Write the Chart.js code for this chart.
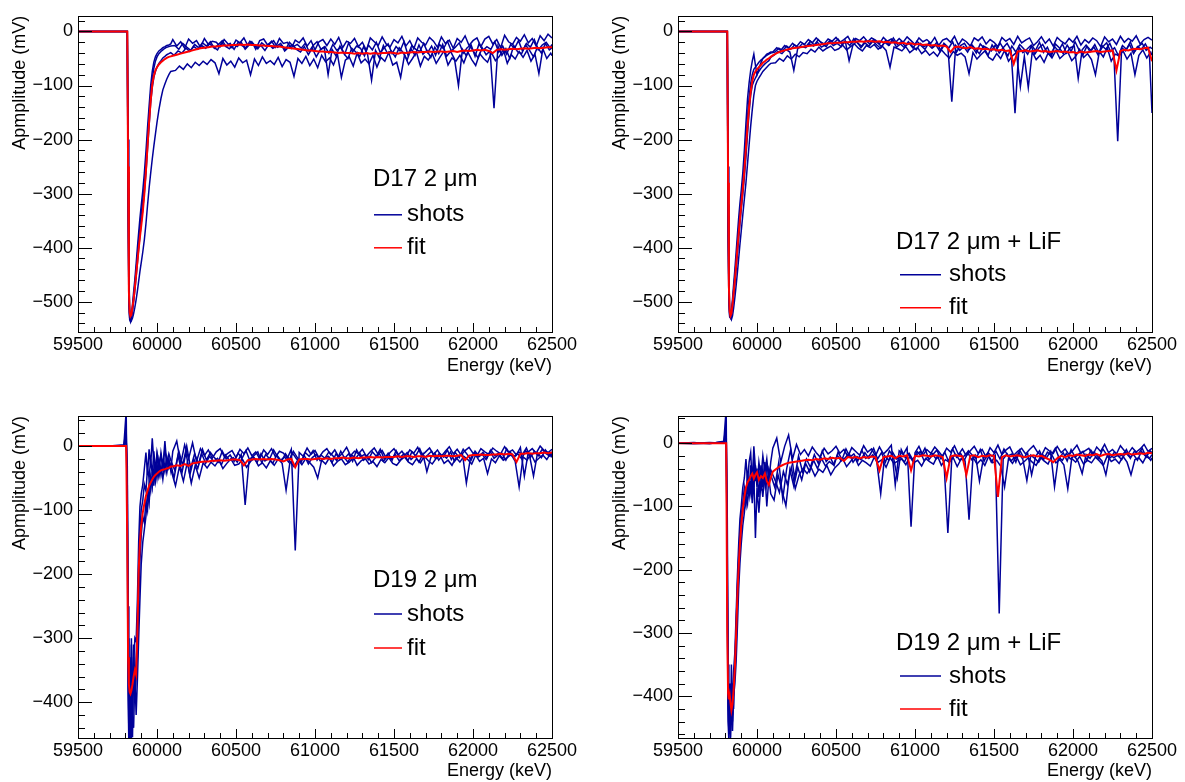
<!DOCTYPE html>
<html>
<head>
<meta charset="utf-8">
<script src="https://cdn.jsdelivr.net/npm/chart.js@4.4.1/dist/chart.umd.min.js"></script>
<style>
  body { margin: 0; background: #fff; overflow: hidden; }
  #page { position: relative; width: 1185px; height: 782px; background: #fff; overflow: hidden; }
  canvas { position: absolute; }
</style>
</head>
<body>
<div id="page">
  <canvas id="c1" width="592" height="391" style="left:0;top:0;width:592px;height:391px"></canvas>
  <canvas id="c2" width="592" height="391" style="left:600px;top:0;width:592px;height:391px"></canvas>
  <canvas id="c3" width="592" height="391" style="left:0;top:391px;width:592px;height:391px"></canvas>
  <canvas id="c4" width="592" height="391" style="left:600px;top:391px;width:592px;height:391px"></canvas>
</div>
<script>
// energy grid (keV): fine steps around the pulse, 25 keV steps in the tail.
// each shot was read on its own tail sampling (A, B, C, D)
const energyPulse = [
  59500, 59600, 59700, 59790, 59805, 59812,
  59817, 59822, 59827, 59832, 59838, 59845,
  59852, 59860, 59868, 59876, 59884, 59892,
  59900, 59910, 59920, 59930, 59940, 59950,
  59960, 59970, 59980, 59990, 60000, 60012,
  60025, 60037, 60050, 60062, 60075, 60087
];
const energyTailA = [
  60100, 60125, 60150, 60175, 60200, 60225, 60250, 60275,
  60300, 60325, 60350, 60375, 60400, 60425, 60450, 60475,
  60500, 60525, 60550, 60575, 60600, 60625, 60650, 60675,
  60700, 60725, 60750, 60775, 60800, 60825, 60850, 60875,
  60900, 60925, 60950, 60975, 61000, 61025, 61050, 61075,
  61100, 61125, 61150, 61175, 61200, 61225, 61250, 61275,
  61300, 61325, 61350, 61375, 61400, 61425, 61450, 61475,
  61500, 61525, 61550, 61575, 61600, 61625, 61650, 61675,
  61700, 61725, 61750, 61775, 61800, 61825, 61850, 61875,
  61900, 61925, 61950, 61975, 62000, 62025, 62050, 62075,
  62100, 62125, 62150, 62175, 62200, 62225, 62250, 62275,
  62300, 62325, 62350, 62375, 62400, 62425, 62450, 62475,
  62500
];
const energyTailB = [
  60108, 60133, 60158, 60183, 60208, 60233, 60258, 60283,
  60308, 60333, 60358, 60383, 60408, 60433, 60458, 60483,
  60508, 60533, 60558, 60583, 60608, 60633, 60658, 60683,
  60708, 60733, 60758, 60783, 60808, 60833, 60858, 60883,
  60908, 60933, 60958, 60983, 61008, 61033, 61058, 61083,
  61108, 61133, 61158, 61183, 61208, 61233, 61258, 61283,
  61308, 61333, 61358, 61383, 61408, 61433, 61458, 61483,
  61508, 61533, 61558, 61583, 61608, 61633, 61658, 61683,
  61708, 61733, 61758, 61783, 61808, 61833, 61858, 61883,
  61908, 61933, 61958, 61983, 62008, 62033, 62058, 62083,
  62108, 62133, 62158, 62183, 62208, 62233, 62258, 62283,
  62308, 62333, 62358, 62383, 62408, 62433, 62458, 62483,
  62500
];
const energyTailC = [
  60117, 60142, 60167, 60192, 60217, 60242, 60267, 60292,
  60317, 60342, 60367, 60392, 60417, 60442, 60467, 60492,
  60517, 60542, 60567, 60592, 60617, 60642, 60667, 60692,
  60717, 60742, 60767, 60792, 60817, 60842, 60867, 60892,
  60917, 60942, 60967, 60992, 61017, 61042, 61067, 61092,
  61117, 61142, 61167, 61192, 61217, 61242, 61267, 61292,
  61317, 61342, 61367, 61392, 61417, 61442, 61467, 61492,
  61517, 61542, 61567, 61592, 61617, 61642, 61667, 61692,
  61717, 61742, 61767, 61792, 61817, 61842, 61867, 61892,
  61917, 61942, 61967, 61992, 62017, 62042, 62067, 62092,
  62117, 62142, 62167, 62192, 62217, 62242, 62267, 62292,
  62317, 62342, 62367, 62392, 62417, 62442, 62467, 62492,
  62500
];
const energyTailD = [
  60113, 60138, 60163, 60188, 60213, 60238, 60263, 60288,
  60313, 60338, 60363, 60388, 60413, 60438, 60463, 60488,
  60513, 60538, 60563, 60588, 60613, 60638, 60663, 60688,
  60713, 60738, 60763, 60788, 60813, 60838, 60863, 60888,
  60913, 60938, 60963, 60988, 61013, 61038, 61063, 61088,
  61113, 61138, 61163, 61188, 61213, 61238, 61263, 61288,
  61313, 61338, 61363, 61388, 61413, 61438, 61463, 61488,
  61513, 61538, 61563, 61588, 61613, 61638, 61663, 61688,
  61713, 61738, 61763, 61788, 61813, 61838, 61863, 61888,
  61913, 61938, 61963, 61988, 62013, 62038, 62063, 62088,
  62113, 62138, 62163, 62188, 62213, 62238, 62263, 62288,
  62313, 62338, 62363, 62388, 62413, 62438, 62463, 62488,
  62500
];
const energyA = energyPulse.concat(energyTailA);
const energyB = energyPulse.concat(energyTailB);
const energyC = energyPulse.concat(energyTailC);
const energyD = energyPulse.concat(energyTailD);

const xTicks = [59500, 60000, 60500, 61000, 61500, 62000, 62500];
const yTicksTop = [-500, -400, -300, -200, -100, 0];
const yTicksBottom = [-400, -300, -200, -100, 0];

// ---- D17 2 um ----
const d17Fit = [
  0, 0, 0, 0, 0, 0,
  -250, -480, -520, -527, -524, -510,
  -496, -474, -450, -426, -402, -380,
  -360, -334, -300, -258, -212, -168,
  -128, -98, -82, -72, -66, -61,
  -57, -54, -51, -49, -47, -46,
  -45, -43, -41, -39, -37, -35, -33, -31,
  -30, -29, -28, -28, -27, -26, -26, -25,
  -25, -24, -25, -24, -25, -25, -26, -26,
  -27, -27, -28, -28, -29, -30, -31, -32,
  -33, -34, -35, -35, -36, -37, -37, -38,
  -38, -39, -40, -39, -40, -40, -41, -40,
  -41, -40, -41, -40, -41, -40, -40, -39,
  -40, -41, -39, -40, -39, -38, -39, -38,
  -38, -37, -38, -37, -37, -38, -37, -36,
  -38, -36, -35, -36, -35, -34, -35, -34,
  -36, -40, -34, -33, -34, -33, -32, -33,
  -32, -31, -32, -31, -30, -31, -30, -29,
  -29
];
const d17Shot1 = [
  0, 0, 0, 0, 0, 0,
  -320, -505, -533, -537, -526, -505,
  -482, -458, -430, -400, -372, -345,
  -322, -295, -262, -222, -178, -138,
  -100, -74, -57, -47, -41, -36,
  -33, -30, -28, -26, -25, -23,
  -15, -27, -19, -31, -14, -22, -17, -29,
  -13, -24, -18, -20, -28, -15, -23, -30,
  -16, -21, -12, -26, -19, -33, -17, -14,
  -25, -18, -29, -13, -22, -20, -31, -16,
  -21, -12, -27, -17, -34, -19, -15, -26,
  -14, -24, -11, -30, -18, -22, -13, -28,
  -20, -35, -12, -19, -26, -10, -23, -29,
  -15, -21, -9, -27, -17, -32, -12, -20,
  -25, -11, -18, -29, -10, -22, -16, -31,
  -13, -20, -8, -26, -17, -12, -28, -14,
  -9, -23, -15, -30, -7, -19, -24, -11,
  -18, -6, -21, -13, -27, -8, -17, -5,
  -12
];
const d17Shot2 = [
  0, 0, 0, 0, 0, 0,
  -260, -485, -525, -532, -530, -518,
  -500, -478, -454, -428, -402, -378,
  -354, -328, -298, -262, -218, -174,
  -132, -104, -85, -74, -66, -59,
  -54, -49, -46, -43, -41, -39,
  -44, -36, -40, -31, -37, -28, -33, -26,
  -31, -23, -29, -34, -21, -27, -32, -24,
  -28, -20, -33, -25, -22, -30, -26, -35,
  -24, -31, -27, -22, -36, -29, -25, -33,
  -38, -28, -43, -31, -47, -34, -29, -80,
  -33, -45, -27, -41, -50, -31, -38, -46,
  -28, -43, -90, -35, -49, -26, -40, -36,
  -47, -30, -39, -53, -32, -44, -25, -42,
  -35, -48, -29, -41, -24, -46, -37, -51,
  -100, -33, -45, -28, -39, -49, -30, -43,
  -36, -142, -27, -44, -32, -50, -26, -38,
  -41, -25, -35, -47, -29, -40, -22, -34,
  -30
];
const d17Shot3 = [
  0, 0, 0, 0, 0, 0,
  -200, -440, -512, -530, -535, -530,
  -522, -510, -496, -480, -462, -444,
  -428, -408, -385, -356, -322, -290,
  -262, -236, -212, -190, -168, -145,
  -124, -108, -97, -88, -80, -74,
  -72, -64, -70, -60, -67, -57, -63, -55,
  -61, -52, -58, -78, -50, -62, -55, -66,
  -49, -58, -53, -80, -51, -63, -47, -59,
  -54, -61, -48, -65, -52, -57, -83, -50,
  -59, -46, -63, -51, -67, -44, -56, -49,
  -62, -42, -85, -53, -47, -64, -40, -58,
  -51, -60, -44, -66, -48, -55, -39, -62,
  -57, -85, -43, -61, -50, -38, -64, -46,
  -53, -41, -59, -47, -36, -62, -49, -55,
  -44, -58, -38, -52, -63, -41, -50, -57,
  -39, -54, -46, -33, -59, -43, -51, -37,
  -48, -35, -55, -42, -78, -32, -50, -40,
  -45
];
const d17Shot4 = [
  0, 0, 0, 0, 0, 0,
  -290, -495, -530, -535, -528, -512,
  -492, -468, -442, -414, -386, -360,
  -338, -312, -282, -244, -200, -156,
  -116, -88, -68, -55, -47, -41,
  -37, -34, -31, -29, -28, -27,
  -26, -33, -22, -29, -35, -24, -30, -21,
  -27, -19, -31, -24, -17, -28, -22, -33,
  -20, -26, -30, -18, -25, -32, -21, -27,
  -23, -17, -29, -25, -34, -20, -28, -24,
  -31, -22, -37, -26, -19, -33, -28, -40,
  -24, -35, -29, -42, -21, -38, -27, -31,
  -45, -25, -34, -20, -39, -30, -23, -41,
  -28, -36, -19, -43, -26, -33, -37, -22,
  -39, -27, -44, -24, -32, -18, -36, -29,
  -21, -40, -30, -25, -46, -23, -35, -28,
  -33, -19, -38, -27, -42, -24, -31, -17,
  -36, -22, -29, -15, -34, -25, -20, -30,
  -24
];

// ---- D17 2 um + LiF ----
const d17LiFFit = [
  0, 0, 0, 0, 0, 0,
  -280, -470, -518, -526, -522, -506,
  -484, -460, -432, -402, -374, -347,
  -322, -292, -258, -215, -175, -140,
  -112, -92, -80, -74, -70, -66,
  -62, -58, -55, -52, -50, -47,
  -44, -40, -37, -35, -33, -31, -30, -29,
  -28, -27, -26, -25, -24, -23, -22, -22,
  -21, -21, -20, -20, -19, -19, -18, -19,
  -18, -18, -19, -18, -20, -19, -21, -20,
  -22, -21, -23, -22, -24, -23, -25, -24,
  -26, -25, -27, -26, -28, -38, -29, -28,
  -30, -31, -29, -32, -31, -33, -32, -34,
  -33, -35, -34, -36, -35, -60, -37, -36,
  -35, -37, -36, -35, -37, -36, -38, -37,
  -36, -38, -37, -39, -38, -40, -37, -39,
  -38, -37, -36, -38, -37, -36, -35, -72,
  -36, -34, -35, -33, -32, -33, -31, -30,
  -55
];
const d17LiFShot1 = [
  0, 0, 0, 0, 0, 0,
  -380, -500, -528, -530, -518, -495,
  -468, -440, -408, -376, -345, -318,
  -295, -262, -220, -170, -125, -95,
  -72, -55, -42, -62, -80, -68,
  -58, -50, -46, -42, -40, -38,
  -38, -30, -35, -26, -31, -22, -28, -19,
  -24, -15, -21, -12, -19, -23, -14, -18,
  -11, -20, -15, -9, -22, -13, -17, -10,
  -19, -12, -16, -23, -11, -18, -14, -21,
  -13, -20, -10, -17, -24, -12, -19, -15,
  -22, -11, -26, -16, -13, -20, -9, -25,
  -14, -19, -27, -12, -17, -10, -23, -15,
  -20, -28, -11, -18, -13, -24, -9, -21,
  -16, -12, -26, -19, -10, -22, -14, -27,
  -11, -18, -23, -13, -20, -9, -25, -15,
  -21, -12, -17, -28, -10, -19, -14, -24,
  -9, -20, -13, -18, -8, -23, -15, -11,
  -16
];
const d17LiFShot2 = [
  0, 0, 0, 0, 0, 0,
  -320, -480, -522, -528, -524, -510,
  -490, -466, -440, -412, -384, -356,
  -330, -302, -270, -232, -190, -150,
  -118, -100, -92, -86, -80, -74,
  -68, -64, -60, -57, -54, -48,
  -44, -37, -41, -33, -38, -72, -31, -28,
  -30, -23, -27, -20, -29, -25, -18, -26,
  -22, -28, -17, -54, -24, -19, -30, -21,
  -27, -18, -25, -31, -20, -26, -16, -29,
  -23, -30, -19, -27, -34, -22, -28, -24,
  -31, -25, -37, -22, -29, -130, -26, -35,
  -28, -38, -24, -33, -41, -27, -31, -36,
  -25, -40, -30, -22, -35, -151, -29, -39,
  -33, -26, -42, -31, -24, -37, -45, -28,
  -36, -23, -40, -30, -27, -87, -34, -25,
  -38, -29, -43, -26, -33, -22, -39, -203,
  -30, -36, -24, -41, -28, -33, -23, -37,
  -151
];
const d17LiFShot3 = [
  0, 0, 0, 0, 0, 0,
  -250, -450, -515, -528, -533, -526,
  -512, -492, -470, -446, -420, -394,
  -370, -340, -310, -280, -245, -210,
  -175, -145, -118, -100, -92, -86,
  -80, -74, -70, -66, -62, -59,
  -58, -50, -55, -45, -51, -42, -47, -39,
  -41, -33, -38, -29, -36, -31, -27, -35,
  -32, -25, -34, -28, -23, -31, -36, -26,
  -30, -24, -33, -27, -35, -66, -29, -32,
  -36, -28, -39, -33, -30, -41, -35, -44,
  -38, -46, -34, -42, -49, -37, -44, -40,
  -47, -78, -39, -51, -43, -36, -48, -53,
  -41, -50, -35, -55, -45, -39, -102, -46,
  -104, -38, -52, -44, -57, -40, -49, -35,
  -50, -43, -38, -54, -46, -33, -48, -41,
  -52, -80, -37, -47, -30, -55, -42, -45,
  -36, -51, -40, -80, -44, -34, -49, -38,
  -44
];
const d17LiFShot4 = [
  0, 0, 0, 0, 0, 0,
  -340, -490, -525, -529, -521, -503,
  -479, -452, -424, -394, -364, -336,
  -312, -282, -246, -200, -158, -122,
  -96, -80, -70, -66, -62, -57,
  -53, -50, -47, -44, -42, -40,
  -38, -31, -35, -27, -33, -25, -30, -22,
  -27, -18, -25, -15, -23, -28, -17, -21,
  -14, -24, -19, -26, -13, -22, -27, -16,
  -23, -15, -21, -28, -17, -25, -12, -24,
  -19, -27, -22, -31, -18, -26, -33, -21,
  -29, -20, -35, -24, -31, -19, -38, -26,
  -22, -34, -28, -40, -23, -31, -44, -25,
  -36, -21, -33, -45, -27, -38, -24, -32,
  -42, -26, -35, -20, -39, -29, -46, -23,
  -30, -41, -25, -37, -19, -34, -43, -27,
  -35, -24, -40, -28, -21, -37, -30, -45,
  -26, -33, -19, -38, -28, -22, -35, -29,
  -32
];

// ---- D19 2 um ----
const d19Fit = [
  0, 0, 0, 0, 0, -150,
  -330, -372, -384, -387, -382, -372,
  -360, -350, -357, -290, -195, -150,
  -125, -104, -90, -78, -70, -62,
  -57, -52, -48, -45, -43, -40,
  -38, -37, -36, -35, -34, -32,
  -32, -30, -31, -28, -31, -27, -26, -25,
  -24, -24, -23, -23, -22, -23, -22, -21,
  -21, -22, -30, -22, -21, -20, -21, -20,
  -21, -20, -21, -22, -24, -21, -20, -33,
  -21, -20, -20, -21, -20, -19, -20, -19,
  -20, -19, -19, -18, -19, -19, -18, -19,
  -18, -18, -17, -18, -17, -18, -17, -17,
  -17, -16, -17, -16, -16, -17, -16, -16,
  -17, -15, -16, -15, -16, -15, -15, -16,
  -15, -14, -22, -15, -14, -14, -13, -14,
  -14, -13, -13, -12, -13, -12, -13, -25,
  -12, -12, -11, -12, -11, -11, -10, -11,
  -10
];
const d19Shot1 = [
  0, 0, 0, 0, 55, -120,
  -380, -470, -330, -445, -310, -420,
  -340, -300, -305, -240, -150, -95,
  -75, -60, -35, -10, -45, -5,
  -30, 12, -25, -40, -10, -28,
  -15, -35, 8, -30, -20, -38,
  -8, 8, -28, 2, -20, 5, -24, -4,
  -15, -6, -19, -9, -4, -16, -11, -7,
  -18, -5, -12, -3, -15, -9, -20, -6,
  -13, -4, -17, -8, -11, -19, -5, -163,
  -10, -16, -3, -13, -7, -18, -9, -4,
  -14, -6, -17, -11, -2, -15, -8, -12,
  -5, -16, -9, -3, -13, -7, -18, -10,
  -4, -14, -8, -17, -6, -11, -2, -15,
  -9, -3, -13, -6, -16, -8, -1, -12,
  -5, -14, -7, -2, -11, -15, -4, -9,
  -13, -3, -8, -12, -1, -10, -6, -14,
  -2, -47, -9, -4, -11, 0, -7, -10,
  -5
];
const d19Shot2 = [
  0, 0, 0, 2, 25, -60,
  -300, -440, -470, -420, -300, -455,
  -330, -400, -360, -330, -250, -180,
  -140, -110, -120, -85, -100, -55,
  -70, -40, -62, -30, -50, -22,
  -45, -25, -40, -18, -35, -28,
  -50, -15, -42, -10, -45, -20, -35, -12,
  -27, -16, -24, -19, -29, -14, -22, -18,
  -25, -13, -92, -21, -16, -26, -12, -23,
  -19, -27, -14, -22, -17, -25, -11, -20,
  -24, -15, -28, -18, -13, -23, -20, -16,
  -26, -12, -21, -17, -25, -14, -19, -11,
  -22, -15, -26, -18, -12, -24, -16, -20,
  -13, -23, -17, -10, -21, -15, -25, -12,
  -40, -18, -11, -22, -14, -19, -9, -24,
  -16, -12, -58, -20, -10, -17, -13, -21,
  -8, -19, -14, -11, -22, -9, -16, -12,
  -20, -7, -15, -47, -11, -18, -6, -14,
  -13
];
const d19Shot3 = [
  0, 0, 0, 0, 8, -30,
  -250, -420, -465, -470, -380, -430,
  -440, -360, -420, -365, -300, -240,
  -185, -150, -130, -110, -75, -90,
  -48, -65, -35, -55, -28, -48,
  -30, -52, -25, -42, -22, -36,
  -62, -32, -55, -25, -58, -30, -50, -26,
  -34, -25, -31, -22, -35, -27, -20, -30,
  -28, -21, -33, -24, -19, -31, -26, -34,
  -23, -30, -20, -27, -69, -24, -32, -21,
  -29, -19, -26, -33, -50, -22, -28, -18,
  -31, -24, -20, -29, -25, -17, -30, -23,
  -19, -28, -24, -32, -21, -26, -18, -27,
  -30, -22, -17, -25, -29, -20, -26, -16,
  -23, -28, -19, -15, -27, -22, -30, -18,
  -25, -16, -21, -28, -14, -24, -19, -43,
  -20, -26, -15, -22, -18, -13, -24, -64,
  -17, -22, -12, -25, -19, -14, -21, -11,
  -18
];
const d19Shot4 = [
  0, 0, 0, 0, 15, -90,
  -340, -455, -400, -350, -456, -380,
  -310, -380, -330, -280, -200, -130,
  -100, -85, -60, -70, -35, -50,
  -20, -45, -8, -38, -15, -42,
  -10, -30, -5, -26, -12, -22,
  -38, -8, -30, 0, -35, -12, -28, -5,
  -22, -10, -18, -25, -8, -20, -14, -24,
  -11, -19, -7, -23, -15, -9, -26, -13,
  -20, -6, -17, -24, -12, -21, -8, -18,
  -25, -10, -16, -7, -22, -14, -19, -9,
  -15, -23, -8, -19, -12, -24, -6, -17,
  -13, -21, -9, -16, -5, -20, -11, -22,
  -7, -18, -12, -23, -9, -15, -4, -19,
  -14, -8, -20, -11, -17, -6, -21, -10,
  -18, -5, -13, -22, -8, -16, -10, -19,
  -6, -15, -11, -20, -4, -14, -17, -9,
  -13, -3, -18, -8, -15, -5, -12, -16,
  -9
];

// ---- D19 2 um + LiF ----
const d19LiFFit = [
  0, 0, 0, 0, 0, -300,
  -395, -405, -398, -410, -422, -412,
  -390, -355, -300, -240, -195, -160,
  -130, -105, -85, -70, -62, -58,
  -52, -48, -56, -50, -46, -58,
  -52, -55, -48, -60, -66, -55,
  -45, -40, -36, -33, -31, -30, -29, -28,
  -27, -26, -27, -25, -26, -24, -25, -23,
  -24, -23, -28, -22, -23, -22, -24, -22,
  -23, -21, -22, -43, -22, -21, -20, -24,
  -20, -21, -19, -43, -20, -21, -19, -20,
  -21, -19, -20, -22, -55, -21, -19, -20,
  -21, -50, -20, -19, -22, -20, -21, -19,
  -20, -85, -22, -19, -21, -20, -19, -21,
  -22, -20, -19, -21, -20, -23, -26, -30,
  -24, -20, -22, -19, -20, -18, -19, -20,
  -18, -19, -17, -20, -18, -17, -19, -18,
  -17, -18, -16, -18, -17, -16, -17, -15,
  -16
];
const d19LiFShot1 = [
  0, 1, -1, 3, 55, -250,
  -440, -470, -380, -455, -350, -440,
  -360, -330, -270, -210, -160, -120,
  -100, -70, -55, -25, -60, -30,
  -15, -65, -5, -40, -70, -30,
  -55, -20, -45, -25, -60, -30,
  -8, 8, -30, -5, 13, -25, -2, -18,
  -10, -20, -6, -15, -22, -8, -17, -12,
  -5, -16, -10, -21, -7, -13, -19, -4,
  -14, -9, -20, -6, -17, -11, -3, -66,
  -12, -18, -7, -132, -15, -5, -19, -10,
  -16, -6, -13, -21, -8, -14, -4, -18,
  -9, -20, -12, -5, -16, -10, -22, -7,
  -15, -3, -18, -11, -6, -19, -13, -8,
  -17, -10, -4, -14, -20, -7, -12, -16,
  -5, -15, -9, -18, -11, -3, -16, -12,
  -8, -19, -6, -13, -2, -15, -10, -17,
  -4, -12, -16, -7, -14, -9, -2, -13,
  -8
];
const d19LiFShot2 = [
  0, 0, 1, 0, 20, -180,
  -400, -430, -460, -400, -445, -380,
  -420, -340, -320, -250, -200, -165,
  -130, -110, -90, -100, -70, -85,
  -60, -95, -50, -150, -70, -110,
  -60, -85, -45, -100, -55, -80,
  -90, -50, -75, -99, -42, -68, -38, -58,
  -32, -45, -27, -40, -24, -36, -29, -34,
  -19, -28, -23, -16, -30, -21, -26, -15,
  -24, -18, -29, -80, -20, -27, -14, -25,
  -22, -30, -17, -26, -19, -13, -28, -21,
  -16, -25, -20, -29, -142, -23, -18, -27,
  -21, -14, -26, -19, -60, -24, -16, -30,
  -20, -269, -25, -17, -28, -22, -15, -26,
  -59, -19, -24, -30, -18, -23, -13, -69,
  -22, -27, -16, -25, -20, -29, -48, -18,
  -24, -14, -21, -28, -50, -17, -23, -19,
  -26, -15, -22, -18, -27, -13, -20, -24,
  -18
];
const d19LiFShot3 = [
  0, -1, 0, 2, 8, -120,
  -350, -410, -440, -465, -400, -455,
  -400, -380, -345, -290, -230, -190,
  -160, -130, -110, -80, -95, -60,
  -78, -40, -70, -35, -55, -45,
  -75, -40, -65, -35, -50, -42,
  -60, -78, -45, -65, -38, -72, -50, -40,
  -48, -38, -52, -41, -46, -35, -50, -39,
  -33, -24, -37, -29, -21, -35, -27, -31,
  -36, -22, -30, -26, -38, -23, -32, -28,
  -25, -34, -21, -31, -27, -36, -24, -29,
  -33, -20, -35, -26, -30, -23, -37, -25,
  -28, -121, -22, -33, -26, -35, -20, -31,
  -27, -36, -69, -24, -32, -21, -34, -29,
  -23, -30, -35, -22, -28, -33, -19, -31,
  -26, -34, -72, -24, -30, -21, -33, -27,
  -31, -22, -28, -35, -20, -29, -25, -32,
  -21, -30, -50, -26, -23, -31, -19, -27,
  -23
];
const d19LiFShot4 = [
  0, 0, 0, 2, 30, -220,
  -420, -455, -420, -466, -380, -430,
  -385, -350, -290, -225, -180, -140,
  -115, -95, -70, -88, -45, -75,
  -35, -80, -20, -60, -40, -85,
  -35, -70, -30, -65, -40, -50,
  -70, -30, -88, -40, -10, -55, -20, -45,
  -25, -38, -18, -32, -12, -29, -22, -35,
  -14, -26, -9, -22, -17, -28, -11, -24,
  -19, -8, -25, -15, -30, -12, -21, -55,
  -10, -23, -16, -27, -13, -20, -8, -26,
  -18, -11, -24, -14, -29, -9, -22, -16,
  -27, -12, -19, -24, -10, -28, -15, -21,
  -13, -25, -9, -20, -17, -30, -11, -23,
  -16, -50, -21, -12, -26, -14, -19, -8,
  -24, -15, -28, -10, -22, -17, -13, -27,
  -11, -20, -25, -9, -18, -23, -14, -21,
  -19, -10, -24, -13, -17, -8, -22, -12,
  -15
];

const SHOT_COLOR = '#000099';
const FIT_COLOR = '#ff0000';
const FONT = '"Liberation Sans", Arial, Helvetica, sans-serif';
Chart.defaults.font.family = FONT;

const fmt = v => (v < 0 ? '\u2212' + Math.abs(v) : String(v));

// frame with ROOT-style inward ticks
const framePlugin = {
  id: 'rootFrame',
  afterDraw(chart) {
    const { ctx, chartArea: a, scales: { x, y } } = chart;
    ctx.save();
    ctx.strokeStyle = '#000';
    ctx.lineWidth = 1;
    ctx.strokeRect(Math.round(a.left) + 0.5, Math.round(a.top) + 0.5,
      Math.round(a.right - a.left), Math.round(a.bottom - a.top));
    ctx.beginPath();
    for (let v = x.min; v <= x.max; v += 100) {
      const px = Math.round(x.getPixelForValue(v)) + 0.5;
      const len = xTicks.includes(v) ? 9 : 5;
      ctx.moveTo(px, a.bottom);
      ctx.lineTo(px, a.bottom - len);
    }
    for (let v = Math.ceil(y.min / 20) * 20; v <= y.max; v += 20) {
      const py = Math.round(y.getPixelForValue(v)) + 0.5;
      const len = v % 100 === 0 ? 14 : 7;
      ctx.moveTo(a.left, py);
      ctx.lineTo(a.left + len, py);
    }
    ctx.stroke();
    ctx.restore();
  }
};

// sample label + legend inside the frame
const labelPlugin = {
  id: 'panelLabel',
  afterDraw(chart, args, o) {
    const { ctx, chartArea: a } = chart;
    ctx.save();
    ctx.font = '24px ' + FONT;
    ctx.fillStyle = '#000';
    ctx.textBaseline = 'middle';
    ctx.textAlign = 'left';
    ctx.fillText(o.text, a.left + o.x, a.top + o.y);
    const items = [
      { label: 'shots', color: SHOT_COLOR, y: o.rows[0] },
      { label: 'fit', color: FIT_COLOR, y: o.rows[1] }
    ];
    items.forEach(it => {
      ctx.strokeStyle = it.color;
      ctx.lineWidth = 1.5;
      ctx.beginPath();
      ctx.moveTo(a.left + o.line[0], a.top + it.y);
      ctx.lineTo(a.left + o.line[1], a.top + it.y);
      ctx.stroke();
      ctx.fillStyle = '#000';
      ctx.fillText(it.label, a.left + o.textX, a.top + it.y);
    });
    ctx.restore();
  }
};

function makePanel(id, p) {
  const toPts = (vals, grid) => grid.map((e, i) => ({ x: e, y: vals[i] }));
  const grids = [energyA, energyB, energyC, energyD];
  const datasets = [
    { label: 'fit', data: toPts(p.fit, energyA), borderColor: FIT_COLOR, borderWidth: 2 }
  ];
  p.shots.forEach((s, k) => {
    datasets.push({ label: 'shots', data: toPts(s, grids[k]), borderColor: SHOT_COLOR, borderWidth: 1.5 });
  });

  new Chart(document.getElementById(id), {
    type: 'line',
    data: { datasets },
    options: {
      responsive: false,
      animation: false,
      events: [],
      layout: { padding: { left: 0, right: 40, top: p.top, bottom: 0 } },
      elements: { point: { radius: 0 }, line: { tension: 0, fill: false } },
      plugins: {
        legend: { display: false },
        tooltip: { enabled: false },
        panelLabel: p.label
      },
      scales: {
        x: {
          type: 'linear',
          min: 59500,
          max: 62500,
          afterFit: s => { s.height = p.xAxisH; },
          afterBuildTicks: s => { s.ticks = xTicks.map(v => ({ value: v })); },
          grid: { display: false, drawTicks: false },
          border: { display: false },
          ticks: { autoSkip: false, maxRotation: 0, padding: 2, color: '#000',
                   font: { size: 18 }, callback: v => String(v) },
          title: { display: true, text: 'Energy (keV)', align: 'end', color: '#000',
                   font: { size: 18 }, padding: { top: 0, bottom: p.xTitlePad } }
        },
        y: {
          type: 'linear',
          min: p.yMin,
          max: p.yMax,
          afterFit: s => { s.width = 78; },
          afterBuildTicks: s => { s.ticks = p.yTicks.map(v => ({ value: v })); },
          grid: { display: false, drawTicks: false },
          border: { display: false },
          ticks: { padding: 5, color: '#000', font: { size: 18 }, callback: fmt },
          title: { display: true, text: 'Apmplitude (mV)', align: 'end', color: '#000',
                   font: { size: 18 }, padding: { top: 9, bottom: 0 } }
        }
      }
    },
    plugins: [framePlugin, labelPlugin]
  });
}

const leftLabel = (text, rows) => ({ text, x: 295, y: 164, line: [296, 324], textX: 329, rows });
const rightLabel = (text, rows) => ({ text, x: 218, y: 227, line: [222, 263], textX: 271, rows });

makePanel('c1', {
  fit: d17Fit, shots: [d17Shot1, d17Shot2, d17Shot3, d17Shot4],
  yMin: -556, yMax: 29, yTicks: yTicksTop, top: 11, xAxisH: 59, xTitlePad: 14,
  label: leftLabel('D17 2 \u03bcm', [199, 232])
});
makePanel('c2', {
  fit: d17LiFFit, shots: [d17LiFShot1, d17LiFShot2, d17LiFShot3, d17LiFShot4],
  yMin: -556, yMax: 29, yTicks: yTicksTop, top: 11, xAxisH: 59, xTitlePad: 14,
  label: rightLabel('D17 2 \u03bcm + LiF', [259, 292])
});
makePanel('c3', {
  fit: d19Fit, shots: [d19Shot1, d19Shot2, d19Shot3, d19Shot4],
  yMin: -456, yMax: 47, yTicks: yTicksBottom, top: 25, xAxisH: 44, xTitlePad: 0,
  label: leftLabel('D19 2 \u03bcm', [198, 232])
});
makePanel('c4', {
  fit: d19LiFFit, shots: [d19LiFShot1, d19LiFShot2, d19LiFShot3, d19LiFShot4],
  yMin: -466, yMax: 43, yTicks: yTicksBottom, top: 25, xAxisH: 44, xTitlePad: 0,
  label: rightLabel('D19 2 \u03bcm + LiF', [260, 293])
});
</script>
</body>
</html>
